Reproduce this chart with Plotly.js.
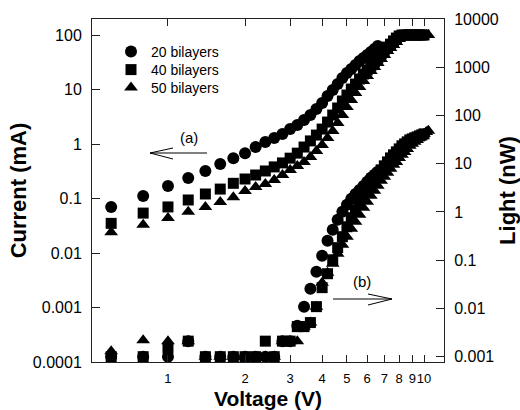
<!DOCTYPE html>
<html><head><meta charset="utf-8">
<script src="https://cdn.plot.ly/plotly-3.0.1.min.js"></script>
<style>html,body{margin:0;padding:0;background:#fff}#chart{width:520px;height:410px}</style>
</head><body><div id="chart"></div>
<script>
// Voltage (V) sampling points
const voltage = [0.6,0.8,1.0,1.2,1.4,1.6,1.8,2.0,2.2,2.4,2.6,2.8,3.0,3.2,3.4,3.6,3.8,4.0,4.2,4.4,4.6,4.8,5.0,5.2,5.4,5.6,5.8,6.0,6.2,6.4,6.6,6.8,7.0,7.2,7.4,7.6,7.8,8.0,8.2,8.4,8.6,8.8,9.0,9.2,9.4,9.6,9.8,10.0,10.2,10.4];
const seriesNames = ['20 bilayers','40 bilayers','50 bilayers'];

// Current (mA), left axis
const current20 = [0.070,0.111,0.169,0.238,0.32,0.43,0.55,0.68,0.88,1.09,1.29,1.52,1.88,2.23,2.76,3.40,4.39,5.65,7.6,9.8,12.6,16.3,20.1,23.8,28.2,33.3,37.8,43,48.7,55.3,62.8];
const current40 = [0.035,0.054,0.070,0.094,0.121,0.149,0.19,0.228,0.27,0.32,0.38,0.45,0.55,0.68,0.88,1.14,1.46,1.88,2.53,3.40,4.58,6.15,7.93,10.2,12.6,15.6,19.2,22.8,27.0,32,37.8,44.8,53,60,68,78,88,96,100,100,100,100,100,100,100,100,100,100];
const current50 = [0.024,0.033,0.044,0.057,0.070,0.086,0.105,0.137,0.163,0.185,0.218,0.27,0.333,0.395,0.468,0.577,0.744,0.96,1.29,1.73,2.43,3.40,4.77,6.41,8.6,11.1,14.3,17.7,21.8,25.9,30.6,36.3,43,50.8,57.7,65.6,74.5,84.5,91.9,100,100,100,100,100,100,100,100,100,100,100];

// Light (nW), right axis
const light20 = [0.001,0.001,0.001,0.0021,0.001,0.001,0.001,0.001,0.001,0.001,0.001,0.0021,0.0021,0.0044,0.0109,0.0257,0.0578,0.124,0.253,0.428,0.69,1.01,1.41,1.88,2.35,2.85,3.45,4.22,5.1,5.89,6.79];
const light40 = [0.001,0.001,0.0015,0.0021,0.001,0.001,0.001,0.001,0.001,0.0021,0.001,0.0021,0.0021,0.0042,0.0042,0.0051,0.0109,0.027,0.0525,0.102,0.182,0.307,0.494,0.76,1.11,1.55,2.16,2.88,3.84,4.87,6.18,7.47,9.04,10.9,13.2,15.3,17.6,20.3,23.5,25.8,28.4,31.2,32.7,34.4,36.0,37.8,39.6,41.6];
const light50 = [0.0013,0.0022,0.0021,0.0021,0.001,0.001,0.001,0.001,0.001,0.001,0.001,0.0021,0.0021,0.0021,0.0042,0.0051,0.0109,0.0342,0.0551,0.0847,0.136,0.209,0.307,0.449,0.627,0.875,1.22,1.63,2.16,2.75,3.48,4.43,5.35,6.47,7.83,9.48,10.9,13.2,15.3,17.6,20.3,23.5,25.8,28.4,31.2,34.4,37.8,41.6,45.7,48.0];

// Tick labels
const xTickVals = [1,2,3,4,5,6,7,8,9,10];
const xTickText = ['1','2','3','4','5','6','7','8','9','10'];
const yLeftTickVals = [0.0001,0.001,0.01,0.1,1,10,100];
const yLeftTickText = ['0.0001','0.001','0.01','0.1','1','10','100'];
const yRightTickVals = [0.001,0.01,0.1,1,10,100,1000,10000];
const yRightTickText = ['0.001','0.01','0.1','1','10','100','1000','10000'];

const symbols = ['circle','square','triangle-up'];
const sizes = [12,11,12];
const legendIds = ['legend','legend2','legend3'];
const currents = [current20,current40,current50];
const lights = [light20,light40,light50];

const traces = [];
for (let i = 0; i < 3; i++) {
  traces.push({
    x: voltage.slice(0, currents[i].length), y: currents[i],
    type:'scatter', mode:'markers', name: seriesNames[i], legend: legendIds[i],
    marker:{symbol:symbols[i], size:sizes[i], color:'#000'},
    yaxis:'y'
  });
}
for (let i = 0; i < 3; i++) {
  traces.push({
    x: voltage.slice(0, lights[i].length), y: lights[i],
    type:'scatter', mode:'markers', name: seriesNames[i], showlegend:false,
    marker:{symbol:symbols[i], size:sizes[i], color:'#000'},
    yaxis:'y2'
  });
}

const lineCol = '#222';
const X = px => (px-92)/352, Y = py => (362-py)/343;
const seg = (x0,y0,x1,y1) => ({type:'line', xref:'paper', yref:'paper', x0:X(x0), y0:Y(y0), x1:X(x1), y1:Y(y1), line:{color:'#000', width:1}});
const leg = py => ({x:X(111), xanchor:'left', y:Y(py), yanchor:'middle', font:{size:14}, bgcolor:'rgba(0,0,0,0)', itemwidth:30});

const layout = {
  width:520, height:410,
  margin:{l:92, r:76, t:19, b:48, pad:0},
  paper_bgcolor:'#fff', plot_bgcolor:'#fff',
  font:{family:'Liberation Sans, Arial, sans-serif', size:16, color:'#000'},
  showlegend:true,
  legend:leg(52), legend2:leg(70), legend3:leg(88),
  xaxis:{type:'log', range:[Math.log10(0.505), Math.log10(11.97)], tickmode:'array', tickvals:xTickVals, ticktext:xTickText,
    ticks:'inside', ticklen:7, tickcolor:lineCol, showline:true, linecolor:lineCol, linewidth:1, mirror:'ticks',
    showgrid:false, zeroline:false, tickfont:{size:13}, tickangle:0, ticklabelstandoff:4,
    title:{text:'<b>Voltage (V)</b>', font:{size:21}, standoff:6}},
  yaxis:{type:'log', range:[-4, 2.294], tickmode:'array', tickvals:yLeftTickVals, ticktext:yLeftTickText,
    ticks:'inside', ticklen:8, tickcolor:lineCol, showline:true, linecolor:lineCol, linewidth:1,
    showgrid:false, zeroline:false, tickfont:{size:16}, ticklabelstandoff:6,
    title:{text:'<b>Current (mA)</b>', font:{size:22}, standoff:0}},
  yaxis2:{type:'log', overlaying:'y', side:'right', range:[-3.11, 4], tickmode:'array', tickvals:yRightTickVals, ticktext:yRightTickText,
    ticks:'inside', ticklen:8, tickcolor:lineCol, showline:true, linecolor:lineCol, linewidth:1,
    showgrid:false, zeroline:false, tickfont:{size:16}, ticklabelstandoff:6,
    title:{text:'<b>Light (nW)</b>', font:{size:22}, standoff:2}},
  annotations:[
    {text:'(a)', xref:'paper', yref:'paper', x:X(189), y:Y(137), xanchor:'center', yanchor:'middle', showarrow:false, font:{size:15}},
    {text:'(b)', xref:'paper', yref:'paper', x:X(362), y:Y(281), xanchor:'center', yanchor:'middle', showarrow:false, font:{size:15}}
  ],
  shapes:[
    seg(150,153,207,153), seg(150,153,173,148), seg(150,153,173,159),
    seg(333,299,392,299), seg(392,299,368,294), seg(392,299,368,305)
  ]
};

Plotly.newPlot('chart', traces, layout, {displayModeBar:false, staticPlot:true});
</script>
</body></html>
